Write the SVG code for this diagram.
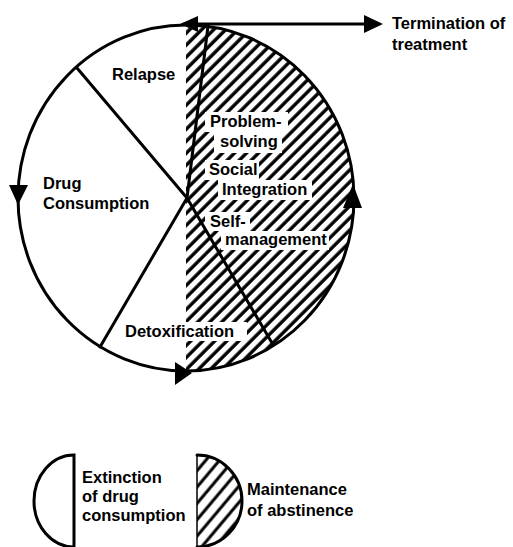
<svg xmlns="http://www.w3.org/2000/svg" width="513" height="547" viewBox="0 0 513 547">
<style>
.t{font-family:"Liberation Sans",Arial,sans-serif;font-weight:bold;font-size:16.5px;fill:#000}
.ln{stroke:#000;stroke-width:3;fill:none;stroke-linecap:round}
.ah{fill:#000}
</style>
<defs>
<pattern id="hatch" width="8.5" height="8.5" patternUnits="userSpaceOnUse" patternTransform="rotate(45)">
<line x1="2" y1="0" x2="2" y2="8.5" stroke="#000" stroke-width="3.4"/>
</pattern>
<pattern id="hatch2" width="10.5" height="10.5" patternUnits="userSpaceOnUse" patternTransform="rotate(40)">
<line x1="2" y1="0" x2="2" y2="10.5" stroke="#000" stroke-width="3"/>
</pattern>
</defs>
<rect width="513" height="547" fill="#fff"/>
<g id="maintenance-half">
<path d="M186,25 A168,173 0 0 1 186,371 Z" fill="url(#hatch)"/>
<g fill="#fff">
<rect x="205" y="112" width="83" height="20"/>
<rect x="214" y="132" width="68" height="21"/>
<rect x="205" y="160" width="54" height="20"/>
<rect x="218" y="180" width="94" height="20"/>
<rect x="205" y="212" width="45" height="19"/>
<rect x="221" y="231" width="108" height="19"/>
<rect x="185" y="322" width="62" height="19"/>
</g>
</g>
<g id="cycle">
<ellipse cx="186" cy="198" rx="168" ry="173" class="ln"/>
</g>
<g id="connectors">
<line x1="187" y1="198" x2="77" y2="68" class="ln"/>
<line x1="187" y1="198" x2="208" y2="26" class="ln"/>
<line x1="187" y1="198" x2="100" y2="347" class="ln"/>
<line x1="187" y1="198" x2="272" y2="343" class="ln"/>
<line x1="184" y1="24" x2="372" y2="24" class="ln"/>
<polygon class="ah" points="180,24 198,16 198,32"/>
<polygon class="ah" points="383,24 364,15 364,33"/>
<polygon class="ah" points="18,205 9,185 28,185"/>
<polygon class="ah" points="192,373 175,362 175,385"/>
<polygon class="ah" points="353,184 343,208 362,208"/>
</g>
<g id="relapse"><text class="t" x="112" y="80">Relapse</text></g>
<g id="termination"><text class="t" x="392" y="29">Termination of</text><text class="t" x="392" y="50">treatment</text></g>
<g id="drug-consumption"><text class="t" x="43" y="189">Drug</text><text class="t" x="43" y="209">Consumption</text></g>
<g id="problem-solving"><text class="t" x="210" y="127">Problem-</text><text class="t" x="220" y="147">solving</text></g>
<g id="social-integration"><text class="t" x="209" y="175">Social</text><text class="t" x="222" y="195">Integration</text></g>
<g id="self-management"><text class="t" x="210" y="227">Self-</text><text class="t" x="225" y="245">management</text></g>
<g id="detoxification"><text class="t" x="125" y="337">Detoxification</text></g>
<g id="legend-extinction">
<path d="M74,455 A40,46 0 0 0 74,547 Z" class="ln" stroke-width="2.5"/>
<text class="t" x="82" y="483">Extinction</text><text class="t" x="82" y="502">of drug</text><text class="t" x="82" y="521">consumption</text>
</g>
<g id="legend-maintenance">
<path d="M197,455 A45,46 0 0 1 197,547 Z" fill="url(#hatch2)"/>
<path d="M197,455 A45,46 0 0 1 197,547" class="ln" stroke-width="2.5"/>
<line x1="197" y1="455" x2="197" y2="547" stroke="#000" stroke-width="1.5"/>
<text class="t" x="247" y="495">Maintenance</text><text class="t" x="247" y="516">of abstinence</text>
</g>
</svg>
